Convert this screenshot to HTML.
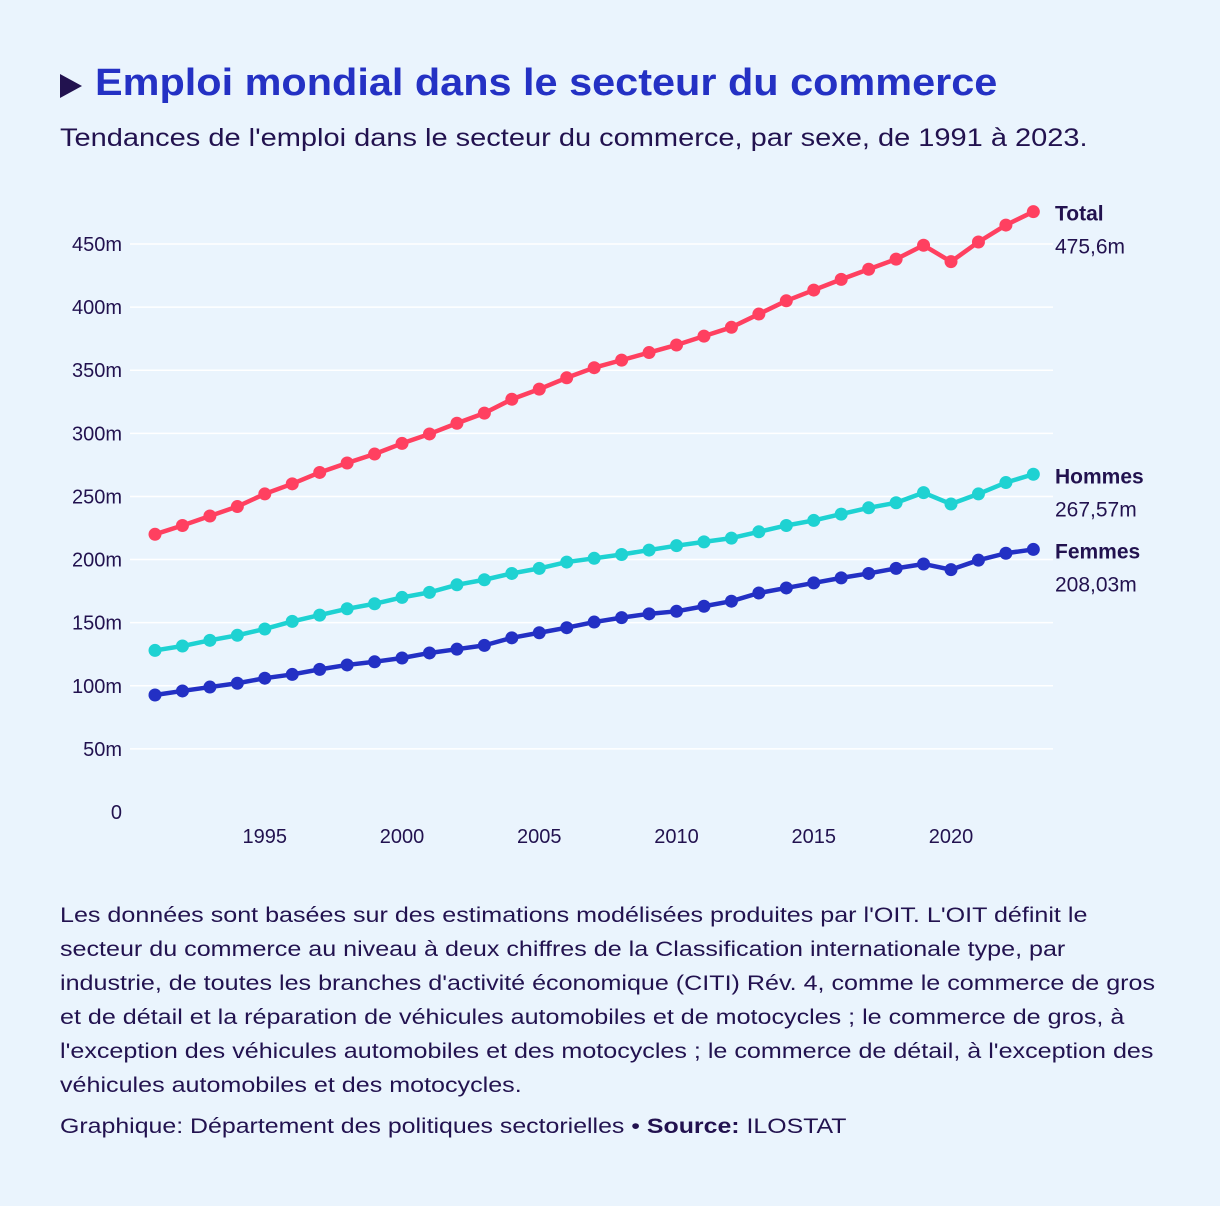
<!DOCTYPE html>
<html><head><meta charset="utf-8">
<style>
body{margin:0;background:#eaf4fd;font-family:"Liberation Sans","DejaVu Sans",sans-serif;color:#22124f;}
#wrap{position:relative;width:1220px;height:1206px;overflow:hidden;}
.sx{display:block;white-space:nowrap;transform-origin:0 50%;}
#title{position:absolute;left:60px;top:62px;font-size:38px;font-weight:bold;color:#2431c4;white-space:nowrap;}
#title .tri{position:absolute;left:0;top:12px;width:0;height:0;border-top:12px solid transparent;border-bottom:12px solid transparent;border-left:22px solid #22124f;}
#title .sx{position:absolute;left:35px;top:0;transform:scaleX(1.09);}
#subtitle{position:absolute;left:60px;top:124px;font-size:25px;}
#subtitle .sx{transform:scaleX(1.16);}
#notes{position:absolute;left:60px;top:899px;font-size:21px;line-height:34px;}
#notes .sx{transform:scaleX(1.195);}
#credit{position:absolute;left:60px;top:1115px;font-size:21px;}
#credit .sx{transform:scaleX(1.185);}
svg text{font-family:"Liberation Sans","DejaVu Sans",sans-serif;fill:#22124f;}
</style></head><body>
<div id="wrap">
<div id="title"><span class="tri"></span><span class="sx">Emploi mondial dans le secteur du commerce</span></div>
<div id="subtitle"><span class="sx">Tendances de l'emploi dans le secteur du commerce, par sexe, de 1991 à 2023.</span></div>
<svg id="chart" width="1220" height="880" style="position:absolute;left:0;top:0"></svg>
<div id="notes">
<span class="sx">Les données sont basées sur des estimations modélisées produites par l'OIT. L'OIT définit le</span>
<span class="sx">secteur du commerce au niveau à deux chiffres de la Classification internationale type, par</span>
<span class="sx">industrie, de toutes les branches d'activité économique (CITI) Rév. 4, comme le commerce de gros</span>
<span class="sx">et de détail et la réparation de véhicules automobiles et de motocycles ; le commerce de gros, à</span>
<span class="sx">l'exception des véhicules automobiles et des motocycles ; le commerce de détail, à l'exception des</span>
<span class="sx">véhicules automobiles et des motocycles.</span>
</div>
<div id="credit"><span class="sx">Graphique: Département des politiques sectorielles • <b>Source:</b> ILOSTAT</span></div>
</div>
<script>
const years=[1991,1992,1993,1994,1995,1996,1997,1998,1999,2000,2001,2002,2003,2004,2005,2006,2007,2008,2009,2010,2011,2012,2013,2014,2015,2016,2017,2018,2019,2020,2021,2022,2023];
const total=[220,227,234.5,242,252,260,269,276.5,283.6,292,299.5,308,316,327,335,344,352,358,364,370,377,384,394.5,405,413.5,422,430,438,449,436,451.6,465,475.6];
const hommes=[128,131.5,136,140,145,151,156,161,165,170,174,180,184,189,193,198,201,204,207.5,211,214,217,222,227,231,236,241,245,253,244,252,261,267.57];
const femmes=[92.7,95.9,99,102,106,109,113,116.5,119,122,126,129,132,138,142,146,150.5,154,157,159,163,167,173.5,177.5,181.5,185.5,189,193,196.5,192,199.5,205,208.03];
const yTicks=[0,50,100,150,200,250,300,350,400,450];
const yTickLabels=["0","50m","100m","150m","200m","250m","300m","350m","400m","450m"];
const xTicks=[1995,2000,2005,2010,2015,2020];
const seriesNames=["Total","Hommes","Femmes"];
const seriesLabels=["475,6m","267,57m","208,03m"];

const svg=document.getElementById('chart');
const NS='http://www.w3.org/2000/svg';
const x=v=>155+(v-1991)*(951-155)/29;
const y=v=>812-v*(812-244)/450;
function el(t,a){const e=document.createElementNS(NS,t);for(const k in a)e.setAttribute(k,a[k]);svg.appendChild(e);return e;}
yTicks.forEach((t,i)=>{
  if(t>0){const g=el('line',{x1:130,x2:1053,y1:y(t),y2:y(t),stroke:'#ffffff','stroke-width':1.5});
  
  }
  const tx=el('text',{x:122,y:y(t)+7,'text-anchor':'end','font-size':20});
  tx.textContent=yTickLabels[i];
  
  
});
xTicks.forEach(t=>{
  const tx=el('text',{x:x(t),y:843,'text-anchor':'middle','font-size':20});
  tx.textContent=t;
  
  
});
const data=[total,hommes,femmes];
const colors=['#ff4060','#1ed2d2','#2330c4'];
data.forEach((s,si)=>{
  const p=el('polyline',{points:s.map((v,i)=>x(years[i])+','+y(v)).join(' '),fill:'none',stroke:colors[si],'stroke-width':4.5,'stroke-linejoin':'round'});
  
  
  s.forEach((v,i)=>{
    const c=el('circle',{cx:x(years[i]),cy:y(v),r:6.5,fill:colors[si]});
    
    
  });
  const last=s[s.length-1];
  const ly=y(last);
  const n=el('text',{x:1055,y:ly+9,'font-size':21,'font-weight':'bold'});
  n.textContent=seriesNames[si];
  
  
  const vl=el('text',{x:1055,y:ly+42,'font-size':21});
  vl.textContent=seriesLabels[si];
  
  
});
</script>
</body></html>
